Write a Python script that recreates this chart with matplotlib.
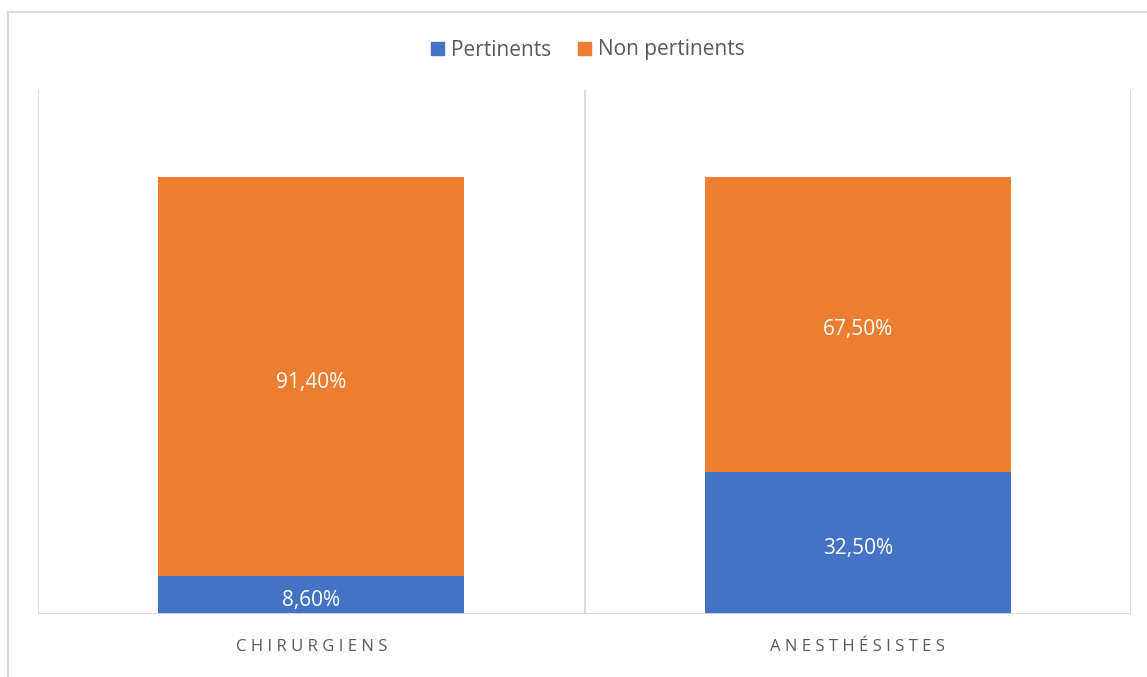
import matplotlib.pyplot as plt
from matplotlib.lines import Line2D
from matplotlib.patches import Patch

categories = ["CHIRURGIENS", "ANESTHÉSISTES"]
pertinents = [0.086, 0.325]
non_pertinents = [0.914, 0.675]
series_names = ["Pertinents", "Non pertinents"]

blue = "#4472C4"
orange = "#ED7D31"
grid_col = "#D9D9D9"
text_col = "#595959"

plt.rcParams['font.family'] = ['Open Sans', 'DejaVu Sans']

fig = plt.figure(figsize=(11.47, 6.77), dpi=100)
ax = fig.add_axes([38 / 1147, 63 / 677, 1093 / 1147, 524 / 677])

x = list(range(len(categories)))
w = 0.56
ax.bar(x, pertinents, w, color=blue, linewidth=0)
ax.bar(x, non_pertinents, w, bottom=pertinents, color=orange, linewidth=0)

for i in x:
    ax.text(i, pertinents[i] / 2 - 0.012, f"{pertinents[i] * 100:.2f}%".replace(".", ","),
            ha="center", va="center", color="white", fontsize=15)
    ax.text(i, pertinents[i] + non_pertinents[i] / 2 - 0.012,
            f"{non_pertinents[i] * 100:.2f}%".replace(".", ","),
            ha="center", va="center", color="white", fontsize=15)

ax.set_xlim(-0.5, len(categories) - 0.5)
ax.set_ylim(0, 1.2)
for b in [-0.5 + k for k in range(len(categories) + 1)]:
    ax.axvline(b, color=grid_col, lw=1.3, zorder=0)
for s in ax.spines.values():
    s.set_visible(False)
ax.axhline(0, color=grid_col, lw=1.3, zorder=3)
ax.set_yticks([])
ax.set_xticks(x)
ax.set_xticklabels([" ".join(c) for c in categories], color=text_col, fontsize=12)
ax.tick_params(axis="x", length=0, pad=18)

handles = [Patch(color=blue), Patch(color=orange)]
fig.legend(handles, series_names, loc="center", bbox_to_anchor=(588 / 1147, 1 - 50 / 677),
           ncol=2, frameon=False, fontsize=15, labelcolor=text_col,
           handlelength=0.6, handleheight=0.6, handletextpad=0.35, columnspacing=1.3)

# outer chart border (cropped on right and bottom)
fig.add_artist(Line2D([8 / 1147, 8 / 1147], [0, 1 - 12 / 677], color=grid_col, lw=1.5))
fig.add_artist(Line2D([8 / 1147, 1], [1 - 12 / 677, 1 - 12 / 677], color=grid_col, lw=1.5))

fig.savefig("out.png", dpi=100)
